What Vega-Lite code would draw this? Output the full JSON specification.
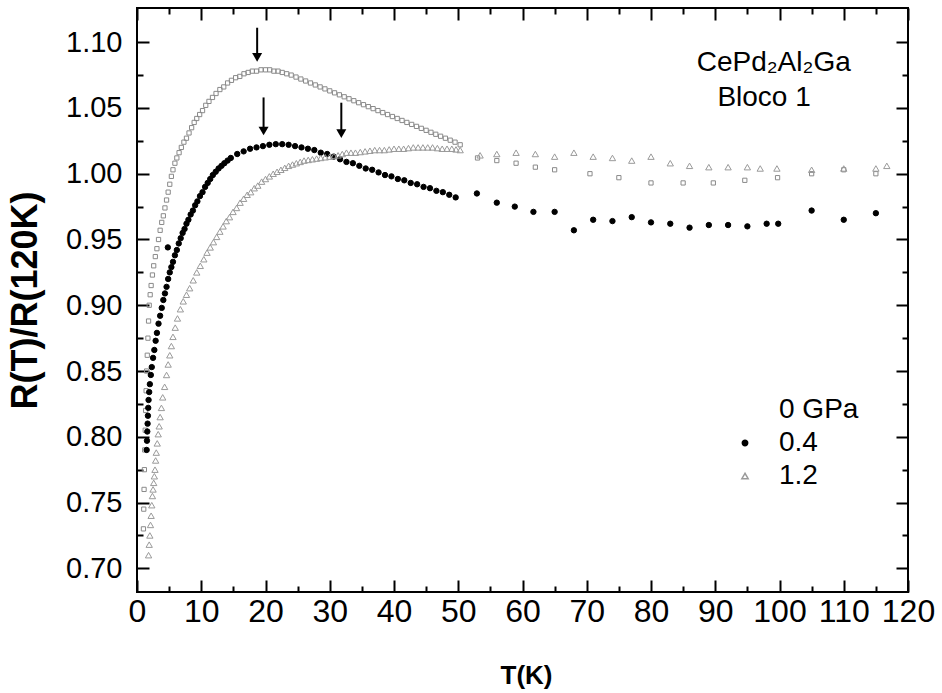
{
  "$schema": "https://vega.github.io/schema/vega-lite/v6.json",
  "width": 771,
  "height": 584,
  "autosize": "none",
  "padding": {"left": 137, "top": 8, "right": 34, "bottom": 101},
  "background": "white",
  "config": {"view": {"stroke": "#000", "strokeWidth": 2}, "font": "Liberation Sans"},
  "datasets": {
    "pts": [
      {"T":1.0,"R":0.73,"p":"0 GPa"},{"T":1.05,"R":0.745,"p":"0 GPa"},{"T":1.1,"R":0.76,"p":"0 GPa"},{"T":1.15,"R":0.775,"p":"0 GPa"},{"T":1.2,"R":0.79,"p":"0 GPa"},{"T":1.28,"R":0.805,"p":"0 GPa"},{"T":1.35,"R":0.82,"p":"0 GPa"},{"T":1.42,"R":0.835,"p":"0 GPa"},{"T":1.5,"R":0.85,"p":"0 GPa"},{"T":1.6,"R":0.862,"p":"0 GPa"},{"T":1.7,"R":0.875,"p":"0 GPa"},{"T":1.8,"R":0.888,"p":"0 GPa"},{"T":1.9,"R":0.9,"p":"0 GPa"},{"T":2.05,"R":0.908,"p":"0 GPa"},{"T":2.2,"R":0.915,"p":"0 GPa"},{"T":2.4,"R":0.923,"p":"0 GPa"},{"T":2.6,"R":0.93,"p":"0 GPa"},{"T":2.85,"R":0.937,"p":"0 GPa"},{"T":3.1,"R":0.943,"p":"0 GPa"},{"T":3.35,"R":0.95,"p":"0 GPa"},{"T":3.6,"R":0.957,"p":"0 GPa"},{"T":3.85,"R":0.963,"p":"0 GPa"},{"T":4.1,"R":0.968,"p":"0 GPa"},{"T":4.35,"R":0.974,"p":"0 GPa"},{"T":4.6,"R":0.98,"p":"0 GPa"},{"T":4.85,"R":0.986,"p":"0 GPa"},{"T":5.1,"R":0.992,"p":"0 GPa"},{"T":5.35,"R":0.998,"p":"0 GPa"},{"T":5.6,"R":1.003,"p":"0 GPa"},{"T":5.9,"R":1.008,"p":"0 GPa"},{"T":6.2,"R":1.012,"p":"0 GPa"},{"T":6.55,"R":1.016,"p":"0 GPa"},{"T":6.9,"R":1.02,"p":"0 GPa"},{"T":7.3,"R":1.024,"p":"0 GPa"},{"T":7.7,"R":1.027,"p":"0 GPa"},{"T":8.1,"R":1.031,"p":"0 GPa"},{"T":8.5,"R":1.035,"p":"0 GPa"},{"T":8.9,"R":1.039,"p":"0 GPa"},{"T":9.3,"R":1.042,"p":"0 GPa"},{"T":9.75,"R":1.045,"p":"0 GPa"},{"T":10.2,"R":1.048,"p":"0 GPa"},{"T":10.7,"R":1.052,"p":"0 GPa"},{"T":11.2,"R":1.055,"p":"0 GPa"},{"T":11.75,"R":1.058,"p":"0 GPa"},{"T":12.3,"R":1.061,"p":"0 GPa"},{"T":12.9,"R":1.064,"p":"0 GPa"},{"T":13.5,"R":1.066,"p":"0 GPa"},{"T":14.1,"R":1.069,"p":"0 GPa"},{"T":14.7,"R":1.071,"p":"0 GPa"},{"T":15.35,"R":1.073,"p":"0 GPa"},{"T":16.0,"R":1.074,"p":"0 GPa"},{"T":16.65,"R":1.076,"p":"0 GPa"},{"T":17.3,"R":1.077,"p":"0 GPa"},{"T":17.95,"R":1.078,"p":"0 GPa"},{"T":18.6,"R":1.078,"p":"0 GPa"},{"T":19.3,"R":1.079,"p":"0 GPa"},{"T":20.0,"R":1.079,"p":"0 GPa"},{"T":20.65,"R":1.079,"p":"0 GPa"},{"T":21.3,"R":1.078,"p":"0 GPa"},{"T":21.95,"R":1.078,"p":"0 GPa"},{"T":22.6,"R":1.077,"p":"0 GPa"},{"T":23.3,"R":1.076,"p":"0 GPa"},{"T":24.0,"R":1.075,"p":"0 GPa"},{"T":24.75,"R":1.0735,"p":"0 GPa"},{"T":25.5,"R":1.072,"p":"0 GPa"},{"T":26.25,"R":1.0705,"p":"0 GPa"},{"T":27.0,"R":1.069,"p":"0 GPa"},{"T":27.75,"R":1.0675,"p":"0 GPa"},{"T":28.5,"R":1.066,"p":"0 GPa"},{"T":29.25,"R":1.0645,"p":"0 GPa"},{"T":30.0,"R":1.063,"p":"0 GPa"},{"T":30.75,"R":1.0615,"p":"0 GPa"},{"T":31.5,"R":1.06,"p":"0 GPa"},{"T":32.25,"R":1.0585,"p":"0 GPa"},{"T":33.0,"R":1.057,"p":"0 GPa"},{"T":33.75,"R":1.0555,"p":"0 GPa"},{"T":34.5,"R":1.054,"p":"0 GPa"},{"T":35.25,"R":1.0525,"p":"0 GPa"},{"T":36.0,"R":1.051,"p":"0 GPa"},{"T":36.75,"R":1.0495,"p":"0 GPa"},{"T":37.5,"R":1.048,"p":"0 GPa"},{"T":38.25,"R":1.0465,"p":"0 GPa"},{"T":39.0,"R":1.045,"p":"0 GPa"},{"T":39.75,"R":1.0435,"p":"0 GPa"},{"T":40.5,"R":1.042,"p":"0 GPa"},{"T":41.25,"R":1.0405,"p":"0 GPa"},{"T":42.0,"R":1.039,"p":"0 GPa"},{"T":42.75,"R":1.0375,"p":"0 GPa"},{"T":43.5,"R":1.036,"p":"0 GPa"},{"T":44.25,"R":1.0345,"p":"0 GPa"},{"T":45.0,"R":1.033,"p":"0 GPa"},{"T":45.75,"R":1.0315,"p":"0 GPa"},{"T":46.5,"R":1.03,"p":"0 GPa"},{"T":47.25,"R":1.0285,"p":"0 GPa"},{"T":48.0,"R":1.027,"p":"0 GPa"},{"T":48.75,"R":1.0255,"p":"0 GPa"},{"T":49.5,"R":1.024,"p":"0 GPa"},{"T":50.3,"R":1.022,"p":"0 GPa"},
      {"T":53,"R":1.012,"p":"0 GPa"},{"T":56,"R":1.01,"p":"0 GPa"},{"T":59,"R":1.008,"p":"0 GPa"},{"T":62,"R":1.005,"p":"0 GPa"},{"T":65,"R":1.003,"p":"0 GPa"},{"T":70.5,"R":1.0,"p":"0 GPa"},{"T":75,"R":0.997,"p":"0 GPa"},{"T":80,"R":0.993,"p":"0 GPa"},{"T":85,"R":0.993,"p":"0 GPa"},{"T":89.7,"R":0.993,"p":"0 GPa"},{"T":94.6,"R":0.995,"p":"0 GPa"},{"T":99.7,"R":0.997,"p":"0 GPa"},{"T":105,"R":1.0,"p":"0 GPa"},{"T":110,"R":1.003,"p":"0 GPa"},{"T":115,"R":1.0,"p":"0 GPa"},
      {"T":1.5,"R":0.79,"p":"0.4"},{"T":1.55,"R":0.797,"p":"0.4"},{"T":1.6,"R":0.804,"p":"0.4"},{"T":1.65,"R":0.81,"p":"0.4"},{"T":1.7,"R":0.816,"p":"0.4"},{"T":1.75,"R":0.822,"p":"0.4"},{"T":1.8,"R":0.828,"p":"0.4"},{"T":1.9,"R":0.834,"p":"0.4"},{"T":2.0,"R":0.84,"p":"0.4"},{"T":2.15,"R":0.847,"p":"0.4"},{"T":2.3,"R":0.853,"p":"0.4"},{"T":2.5,"R":0.86,"p":"0.4"},{"T":2.7,"R":0.866,"p":"0.4"},{"T":2.9,"R":0.873,"p":"0.4"},{"T":3.1,"R":0.879,"p":"0.4"},{"T":3.35,"R":0.886,"p":"0.4"},{"T":3.6,"R":0.892,"p":"0.4"},{"T":3.85,"R":0.898,"p":"0.4"},{"T":4.1,"R":0.904,"p":"0.4"},{"T":4.35,"R":0.909,"p":"0.4"},{"T":4.6,"R":0.914,"p":"0.4"},{"T":4.85,"R":0.92,"p":"0.4"},{"T":5.1,"R":0.925,"p":"0.4"},{"T":5.35,"R":0.929,"p":"0.4"},{"T":5.6,"R":0.933,"p":"0.4"},{"T":5.9,"R":0.938,"p":"0.4"},{"T":6.2,"R":0.942,"p":"0.4"},{"T":6.5,"R":0.947,"p":"0.4"},{"T":6.8,"R":0.951,"p":"0.4"},{"T":7.1,"R":0.955,"p":"0.4"},{"T":7.4,"R":0.958,"p":"0.4"},{"T":7.7,"R":0.962,"p":"0.4"},{"T":8.0,"R":0.965,"p":"0.4"},{"T":8.35,"R":0.969,"p":"0.4"},{"T":8.7,"R":0.972,"p":"0.4"},{"T":9.05,"R":0.976,"p":"0.4"},{"T":9.4,"R":0.979,"p":"0.4"},{"T":9.8,"R":0.983,"p":"0.4"},{"T":10.2,"R":0.986,"p":"0.4"},{"T":10.6,"R":0.99,"p":"0.4"},{"T":11.0,"R":0.993,"p":"0.4"},{"T":11.4,"R":0.996,"p":"0.4"},{"T":11.8,"R":0.999,"p":"0.4"},{"T":12.25,"R":1.0015,"p":"0.4"},{"T":12.7,"R":1.004,"p":"0.4"},{"T":13.15,"R":1.006,"p":"0.4"},{"T":13.6,"R":1.008,"p":"0.4"},{"T":14.1,"R":1.01,"p":"0.4"},{"T":14.6,"R":1.012,"p":"0.4"},{"T":15.6,"R":1.015,"p":"0.4"},{"T":16.6,"R":1.017,"p":"0.4"},{"T":17.6,"R":1.019,"p":"0.4"},{"T":18.6,"R":1.02,"p":"0.4"},{"T":19.6,"R":1.021,"p":"0.4"},{"T":20.6,"R":1.022,"p":"0.4"},{"T":21.6,"R":1.0225,"p":"0.4"},{"T":22.6,"R":1.0225,"p":"0.4"},{"T":23.6,"R":1.022,"p":"0.4"},{"T":24.6,"R":1.021,"p":"0.4"},{"T":25.6,"R":1.02,"p":"0.4"},{"T":26.6,"R":1.019,"p":"0.4"},{"T":27.6,"R":1.018,"p":"0.4"},{"T":28.6,"R":1.016,"p":"0.4"},{"T":29.6,"R":1.015,"p":"0.4"},{"T":30.6,"R":1.013,"p":"0.4"},{"T":31.6,"R":1.011,"p":"0.4"},{"T":32.6,"R":1.009,"p":"0.4"},{"T":33.6,"R":1.008,"p":"0.4"},{"T":34.6,"R":1.006,"p":"0.4"},{"T":35.6,"R":1.004,"p":"0.4"},{"T":36.6,"R":1.003,"p":"0.4"},{"T":37.6,"R":1.001,"p":"0.4"},{"T":38.6,"R":0.999,"p":"0.4"},{"T":39.6,"R":0.998,"p":"0.4"},{"T":40.6,"R":0.996,"p":"0.4"},{"T":41.6,"R":0.995,"p":"0.4"},{"T":42.6,"R":0.993,"p":"0.4"},{"T":43.6,"R":0.992,"p":"0.4"},{"T":44.6,"R":0.99,"p":"0.4"},{"T":45.6,"R":0.989,"p":"0.4"},{"T":46.6,"R":0.987,"p":"0.4"},{"T":47.6,"R":0.986,"p":"0.4"},{"T":48.6,"R":0.984,"p":"0.4"},{"T":49.6,"R":0.982,"p":"0.4"},{"T":4.8,"R":0.944,"p":"0.4"},
      {"T":52.9,"R":0.985,"p":"0.4"},{"T":56,"R":0.978,"p":"0.4"},{"T":58.8,"R":0.975,"p":"0.4"},{"T":61.7,"R":0.971,"p":"0.4"},{"T":65,"R":0.971,"p":"0.4"},{"T":68,"R":0.957,"p":"0.4"},{"T":71,"R":0.965,"p":"0.4"},{"T":74,"R":0.964,"p":"0.4"},{"T":77,"R":0.967,"p":"0.4"},{"T":80,"R":0.963,"p":"0.4"},{"T":83,"R":0.962,"p":"0.4"},{"T":86,"R":0.959,"p":"0.4"},{"T":89,"R":0.961,"p":"0.4"},{"T":92,"R":0.961,"p":"0.4"},{"T":95,"R":0.96,"p":"0.4"},{"T":98,"R":0.962,"p":"0.4"},{"T":99.8,"R":0.962,"p":"0.4"},{"T":105,"R":0.972,"p":"0.4"},{"T":110,"R":0.965,"p":"0.4"},{"T":115,"R":0.97,"p":"0.4"},
      {"T":1.8,"R":0.71,"p":"1.2"},{"T":1.9,"R":0.718,"p":"1.2"},{"T":2.0,"R":0.725,"p":"1.2"},{"T":2.1,"R":0.733,"p":"1.2"},{"T":2.2,"R":0.74,"p":"1.2"},{"T":2.3,"R":0.748,"p":"1.2"},{"T":2.4,"R":0.755,"p":"1.2"},{"T":2.5,"R":0.76,"p":"1.2"},{"T":2.6,"R":0.765,"p":"1.2"},{"T":2.7,"R":0.77,"p":"1.2"},{"T":2.8,"R":0.775,"p":"1.2"},{"T":2.9,"R":0.782,"p":"1.2"},{"T":3.0,"R":0.788,"p":"1.2"},{"T":3.15,"R":0.795,"p":"1.2"},{"T":3.3,"R":0.802,"p":"1.2"},{"T":3.45,"R":0.808,"p":"1.2"},{"T":3.6,"R":0.815,"p":"1.2"},{"T":3.8,"R":0.822,"p":"1.2"},{"T":4.0,"R":0.83,"p":"1.2"},{"T":4.3,"R":0.838,"p":"1.2"},{"T":4.6,"R":0.847,"p":"1.2"},{"T":4.85,"R":0.855,"p":"1.2"},{"T":5.1,"R":0.862,"p":"1.2"},{"T":5.35,"R":0.869,"p":"1.2"},{"T":5.6,"R":0.876,"p":"1.2"},{"T":5.95,"R":0.883,"p":"1.2"},{"T":6.3,"R":0.89,"p":"1.2"},{"T":6.75,"R":0.897,"p":"1.2"},{"T":7.2,"R":0.903,"p":"1.2"},{"T":7.7,"R":0.908,"p":"1.2"},{"T":8.2,"R":0.913,"p":"1.2"},{"T":8.75,"R":0.919,"p":"1.2"},{"T":9.3,"R":0.925,"p":"1.2"},{"T":9.85,"R":0.93,"p":"1.2"},{"T":10.4,"R":0.935,"p":"1.2"},{"T":10.9,"R":0.94,"p":"1.2"},{"T":11.4,"R":0.944,"p":"1.2"},{"T":11.9,"R":0.948,"p":"1.2"},{"T":12.4,"R":0.952,"p":"1.2"},{"T":12.9,"R":0.956,"p":"1.2"},{"T":13.4,"R":0.96,"p":"1.2"},{"T":13.9,"R":0.964,"p":"1.2"},{"T":14.4,"R":0.967,"p":"1.2"},{"T":14.95,"R":0.971,"p":"1.2"},{"T":15.5,"R":0.974,"p":"1.2"},{"T":16.05,"R":0.978,"p":"1.2"},{"T":16.6,"R":0.981,"p":"1.2"},{"T":17.15,"R":0.984,"p":"1.2"},{"T":17.7,"R":0.986,"p":"1.2"},{"T":18.25,"R":0.989,"p":"1.2"},{"T":18.8,"R":0.991,"p":"1.2"},{"T":19.4,"R":0.994,"p":"1.2"},{"T":20.0,"R":0.996,"p":"1.2"},{"T":20.6,"R":0.998,"p":"1.2"},{"T":21.2,"R":1.0,"p":"1.2"},{"T":21.8,"R":1.0015,"p":"1.2"},{"T":22.4,"R":1.003,"p":"1.2"},{"T":23.0,"R":1.0045,"p":"1.2"},{"T":23.6,"R":1.006,"p":"1.2"},{"T":24.2,"R":1.007,"p":"1.2"},{"T":24.8,"R":1.008,"p":"1.2"},{"T":25.4,"R":1.009,"p":"1.2"},{"T":26.0,"R":1.01,"p":"1.2"},{"T":26.65,"R":1.0105,"p":"1.2"},{"T":27.3,"R":1.011,"p":"1.2"},{"T":27.95,"R":1.0115,"p":"1.2"},{"T":28.6,"R":1.012,"p":"1.2"},{"T":29.3,"R":1.0125,"p":"1.2"},{"T":30.0,"R":1.013,"p":"1.2"},{"T":30.65,"R":1.0135,"p":"1.2"},{"T":31.3,"R":1.014,"p":"1.2"},{"T":31.95,"R":1.015,"p":"1.2"},{"T":32.6,"R":1.016,"p":"1.2"},{"T":33.3,"R":1.016,"p":"1.2"},{"T":34.0,"R":1.016,"p":"1.2"},{"T":34.75,"R":1.0165,"p":"1.2"},{"T":35.5,"R":1.017,"p":"1.2"},{"T":36.25,"R":1.0175,"p":"1.2"},{"T":37.0,"R":1.018,"p":"1.2"},{"T":37.75,"R":1.018,"p":"1.2"},{"T":38.5,"R":1.018,"p":"1.2"},{"T":39.25,"R":1.0185,"p":"1.2"},{"T":40.0,"R":1.019,"p":"1.2"},{"T":40.75,"R":1.019,"p":"1.2"},{"T":41.5,"R":1.019,"p":"1.2"},{"T":42.25,"R":1.0195,"p":"1.2"},{"T":43.0,"R":1.02,"p":"1.2"},{"T":43.75,"R":1.02,"p":"1.2"},{"T":44.5,"R":1.02,"p":"1.2"},{"T":45.25,"R":1.02,"p":"1.2"},{"T":46.0,"R":1.02,"p":"1.2"},{"T":46.75,"R":1.0195,"p":"1.2"},{"T":47.5,"R":1.019,"p":"1.2"},{"T":48.25,"R":1.019,"p":"1.2"},{"T":49.0,"R":1.019,"p":"1.2"},{"T":49.65,"R":1.0185,"p":"1.2"},{"T":50.3,"R":1.018,"p":"1.2"},
      {"T":53.4,"R":1.014,"p":"1.2"},{"T":56,"R":1.015,"p":"1.2"},{"T":59,"R":1.016,"p":"1.2"},{"T":62,"R":1.015,"p":"1.2"},{"T":65,"R":1.013,"p":"1.2"},{"T":68,"R":1.016,"p":"1.2"},{"T":71,"R":1.013,"p":"1.2"},{"T":74,"R":1.012,"p":"1.2"},{"T":77,"R":1.01,"p":"1.2"},{"T":80,"R":1.013,"p":"1.2"},{"T":83,"R":1.008,"p":"1.2"},{"T":86,"R":1.006,"p":"1.2"},{"T":89,"R":1.005,"p":"1.2"},{"T":92,"R":1.005,"p":"1.2"},{"T":95,"R":1.005,"p":"1.2"},{"T":97,"R":1.004,"p":"1.2"},{"T":99.6,"R":1.004,"p":"1.2"},{"T":105,"R":1.003,"p":"1.2"},{"T":110,"R":1.004,"p":"1.2"},{"T":115,"R":1.004,"p":"1.2"},{"T":116.7,"R":1.006,"p":"1.2"}
    ],
    "arrows": [
      {"T":18.7,"top":1.111,"head":1.0885},
      {"T":19.7,"top":1.058,"head":1.0325},
      {"T":31.8,"top":1.054,"head":1.0305}
    ],
    "notes": [
      {"T":99.1,"R":1.084,"txt":"CePd₂Al₂Ga"},
      {"T":97.6,"R":1.0574,"txt":"Bloco 1"}
    ]
  },
  "resolve": {"axis": {"x": "independent", "y": "independent"}},
  "layer": [
    {
      "data": {"name": "pts"},
      "mark": {"type": "point", "strokeWidth": 1, "opacity": 1},
      "encoding": {
        "x": {"field": "T", "type": "quantitative",
          "scale": {"domain": [0, 120], "nice": false, "zero": false},
          "axis": {"orient": "bottom", "values": [0,10,20,30,40,50,60,70,80,90,100,110,120],
            "title": "T(K)", "titleFont": "Liberation Sans", "titleFontSize": 26, "titleFontWeight": "bold", "titleColor": "#000",
            "titleX": 389, "titleY": 83, "titleBaseline": "middle", "titleAlign": "center",
            "domain": false, "ticks": false,
            "grid": true, "gridColor": "#000", "gridWidth": 2, "gridOpacity": 1, "gridDash": [12, 560],
            "labelFont": "Liberation Sans", "labelFontSize": 32, "labelColor": "#000", "labelBaseline": "top",
            "labelPadding": 4, "labelOverlap": false, "labelFlush": false}},
        "y": {"field": "R", "type": "quantitative",
          "scale": {"domain": [0.682, 1.126], "nice": false, "zero": false},
          "axis": {"orient": "left", "values": [0.7,0.75,0.8,0.85,0.9,0.95,1.0,1.05,1.1],
            "title": "R(T)/R(120K)", "titleFont": "Liberation Sans", "titleFontSize": 36, "titleFontWeight": "bold", "titleColor": "#000",
            "titleX": -112, "titleY": 292, "titleBaseline": "middle", "titleAlign": "center", "titleAngle": -90,
            "domain": false, "ticks": false,
            "grid": true, "gridColor": "#000", "gridWidth": 2, "gridOpacity": 1, "gridDash": [12, 747],
            "labelExpr": "format(datum.value, '.2f')",
            "labelFont": "Liberation Sans", "labelFontSize": 29, "labelColor": "#000",
            "labelPadding": 15, "labelOverlap": false, "labelFlush": false}},
        "shape": {"field": "p", "type": "nominal",
          "scale": {"domain": ["0 GPa", "0.4", "1.2"], "range": ["square", "circle", "triangle-up"]},
          "legend": {"orient": "none", "legendX": 594, "legendY": 388, "title": null, "padding": 0,
            "labelFont": "Liberation Sans", "labelFontSize": 28, "labelColor": "#000", "labelOffset": 20, "rowPadding": 5}},
        "fill": {"field": "p", "type": "nominal",
          "scale": {"domain": ["0 GPa", "0.4", "1.2"], "range": ["transparent", "#000", "transparent"]}},
        "stroke": {"condition": {"test": "datum.p === '0 GPa'", "value": "#8a8a8a"},
          "field": "p", "type": "nominal",
          "scale": {"domain": ["0 GPa", "0.4", "1.2"], "range": ["#ffffff", "#000", "#9a9a9a"]}},
        "size": {"field": "p", "type": "nominal",
          "scale": {"domain": ["0 GPa", "0.4", "1.2"], "range": [18, 40, 20]}}
      }
    },
    {
      "data": {"name": "arrows"},
      "mark": {"type": "rule", "stroke": "#000", "strokeWidth": 2},
      "encoding": {
        "x": {"field": "T", "type": "quantitative",
          "axis": {"orient": "top", "values": [5,15,25,35,45,55,65,75,85,95,105,115],
            "title": null, "labels": false, "domain": false, "ticks": false,
            "grid": true, "gridColor": "#000", "gridWidth": 2, "gridOpacity": 1, "gridDash": [6, 572]}},
        "y": {"field": "top", "type": "quantitative",
          "axis": {"orient": "right", "values": [0.725,0.775,0.825,0.875,0.925,0.975,1.025,1.075],
            "title": null, "labels": false, "domain": false, "ticks": false,
            "grid": true, "gridColor": "#000", "gridWidth": 2, "gridOpacity": 1, "gridDash": [6, 759]}},
        "y2": {"field": "head"}
      }
    },
    {
      "data": {"name": "arrows"},
      "mark": {"type": "point", "shape": "triangle-down", "filled": true, "fill": "#000", "size": 100, "strokeWidth": 0, "opacity": 1},
      "encoding": {
        "x": {"field": "T", "type": "quantitative", "axis": null},
        "y": {"field": "head", "type": "quantitative", "axis": null}
      }
    },
    {
      "data": {"name": "notes"},
      "mark": {"type": "text", "font": "Liberation Sans", "fontSize": 28, "fill": "#000", "align": "center", "baseline": "middle"},
      "encoding": {
        "x": {"field": "T", "type": "quantitative", "axis": null},
        "y": {"field": "R", "type": "quantitative", "axis": null},
        "text": {"field": "txt"}
      }
    }
  ]
}
